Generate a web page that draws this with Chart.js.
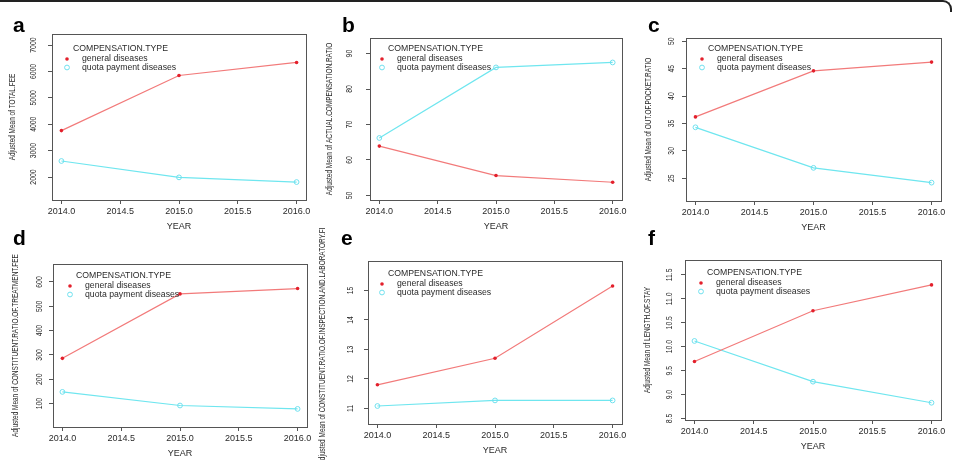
<!DOCTYPE html>
<html>
<head>
<meta charset="utf-8">
<script src="https://cdn.jsdelivr.net/npm/chart.js@4.4.1/dist/chart.umd.min.js"></script>
<style>
  body { margin: 0; background: #fff; }
  #fig { position: relative; width: 955px; height: 460px; overflow: hidden; background: #fff; }
  #fig canvas { position: absolute; }
  #frame { position: absolute; left: -10px; top: 0; width: 960px; height: 10px;
           border-top: 2px solid #222; border-right: 2px solid #222; border-top-right-radius: 9px; }
</style>
</head>
<body>
<div id="fig"><div id="frame"></div></div>
<script>
const years = [2014, 2015, 2016];
const xTicks = [2014.0, 2014.5, 2015.0, 2015.5, 2016.0];
const xRange = [2013.92, 2016.08];

// a: total fee
const totalFeeGeneral = [3760, 5848, 6342];
const totalFeeQuota = [2608, 1987, 1810];
const totalFeeTicks = [2000, 3000, 4000, 5000, 6000, 7000];
const totalFeeRange = [1130, 7420];

// b: actual compensation ratio
const actualCompGeneral = [63.9, 55.6, 53.7];
const actualCompQuota = [66.2, 86.1, 87.5];
const actualCompTicks = [50, 60, 70, 80, 90];
const actualCompRange = [48.7, 94.4];

// c: out of pocket ratio
const outOfPocketGeneral = [36.2, 44.6, 46.2];
const outOfPocketQuota = [34.3, 26.9, 24.2];
const outOfPocketTicks = [25, 30, 35, 40, 45, 50];
const outOfPocketRange = [20.85, 50.6];

// d: constituent ratio of treatment fee
const treatmentGeneral = [286, 551, 573];
const treatmentQuota = [148, 92, 78];
const treatmentTicks = [100, 200, 300, 400, 500, 600];
const treatmentRange = [3.6, 674];

// e: constituent ratio of inspection and laboratory fee
const inspectionGeneral = [11.8, 12.7, 15.15];
const inspectionQuota = [11.08, 11.27, 11.27];
const inspectionTicks = [11, 12, 13, 14, 15];
const inspectionRange = [10.47, 16.0];

// f: length of stay
const stayGeneral = [9.69, 10.75, 11.29];
const stayQuota = [10.12, 9.27, 8.83];
const stayTicks = [8.5, 9.0, 9.5, 10.0, 10.5, 11.0, 11.5];
const stayRange = [8.47, 11.81];

const seriesNames = ["general diseases", "quota payment diseases"];
const legendTitle = "COMPENSATION.TYPE";

const RED_LINE = "#f27a7a";
const RED_PT = "#e3202c";
const CYAN_LINE = "#6fe6ef";
const CYAN_PT = "#6fe0ee";
const TEXT = "#2a2a2a";
const FONT = '"Liberation Sans", Arial, Helvetica, sans-serif';

// left/top of each canvas, plot box inside it, and where the text sits
const panels = [
  { letter: "a", x: 0, y: 0, general: totalFeeGeneral, quota: totalFeeQuota, ticks: totalFeeTicks, range: totalFeeRange, dec: 0,
    title: "Adjusted Mean of TOTAL.FEE", area: [52, 34, 306, 200], tickGap: 18, titleGap: 39, letterPos: [13, 32], legendPos: [73, 49] },
  { letter: "b", x: 318, y: 0, general: actualCompGeneral, quota: actualCompQuota, ticks: actualCompTicks, range: actualCompRange, dec: 0,
    title: "Adjusted Mean of ACTUAL.COMPENSATION.RATIO", area: [52, 38, 304, 200], tickGap: 20, titleGap: 40, letterPos: [24, 32], legendPos: [70, 49] },
  { letter: "c", x: 636, y: 0, general: outOfPocketGeneral, quota: outOfPocketQuota, ticks: outOfPocketTicks, range: outOfPocketRange, dec: 0,
    title: "Adjusted Mean of OUT.OF.POCKET.RATIO", area: [50, 38, 305, 201], tickGap: 14, titleGap: 37, letterPos: [12, 32], legendPos: [72, 49] },
  { letter: "d", x: 0, y: 228, general: treatmentGeneral, quota: treatmentQuota, ticks: treatmentTicks, range: treatmentRange, dec: 0,
    title: "Adjusted Mean of CONSTITUENT.RATIO.OF.TREATMENT.FEE", area: [53, 36, 307, 199], tickGap: 13, titleGap: 37, letterPos: [13, 17], legendPos: [76, 48] },
  { letter: "e", x: 318, y: 228, general: inspectionGeneral, quota: inspectionQuota, ticks: inspectionTicks, range: inspectionRange, dec: 0,
    title: "Adjusted Mean of CONSTITUENT.RATIO.OF.INSPECTION.AND.LABORATORY.FEE", area: [50, 33, 304, 196], tickGap: 17, titleGap: 45, letterPos: [23, 17], legendPos: [70, 46] },
  { letter: "f", x: 636, y: 228, general: stayGeneral, quota: stayQuota, ticks: stayTicks, range: stayRange, dec: 1,
    title: "Adjusted Mean of LENGTH.OF.STAY", area: [49, 32, 305, 192], tickGap: 15, titleGap: 37, letterPos: [12, 17], legendPos: [71, 45] }
];

const CANVAS_W = 319;
const CANVAS_H = 232;
const SQUASH = 0.76; // vertical text in the figure is compressed

const panelDecor = {
  id: "panelDecor",
  afterDatasetsDraw(chart, args, opts) {
    const p = opts.panel;
    const { ctx, chartArea: a } = chart;
    const ys = chart.scales.y;
    ctx.save();

    // box round the plot
    ctx.strokeStyle = "#555";
    ctx.lineWidth = 1;
    ctx.strokeRect(Math.round(a.left) + 0.5, Math.round(a.top) + 0.5,
      Math.round(a.right - a.left), Math.round(a.bottom - a.top));

    // y tick labels, parallel to the axis
    ctx.fillStyle = TEXT;
    ctx.textAlign = "center";
    ctx.textBaseline = "middle";
    ctx.font = "9px " + FONT;
    ys.ticks.forEach(t => {
      const py = ys.getPixelForValue(t.value);
      ctx.save();
      ctx.translate(a.left - p.tickGap, py);
      ctx.rotate(-Math.PI / 2);
      ctx.scale(SQUASH, 1);
      ctx.fillText(t.value.toFixed(p.dec), 0, 0);
      ctx.restore();
    });

    // y title
    ctx.font = "8.5px " + FONT;
    ctx.save();
    ctx.translate(a.left - p.titleGap, (a.top + a.bottom) / 2);
    ctx.rotate(-Math.PI / 2);
    ctx.scale(SQUASH, 1);
    ctx.fillText(p.title, 0, 0);
    ctx.restore();

    // x title
    ctx.font = "9px " + FONT;
    ctx.fillText("YEAR", (a.left + a.right) / 2, a.bottom + 27);

    // legend, drawn from the datasets
    const [lx, ly] = p.legendPos;
    ctx.textAlign = "left";
    ctx.font = "8.7px " + FONT;
    ctx.fillText(legendTitle, lx, ly);
    chart.data.datasets.forEach((ds, i) => {
      const rowY = ly + 10 + i * 8.5;
      ctx.beginPath();
      ctx.arc(lx - 6, rowY, ds.pointRadius, 0, Math.PI * 2);
      if (ds.pointBackgroundColor !== "transparent") {
        ctx.fillStyle = ds.pointBackgroundColor;
        ctx.fill();
      } else {
        ctx.strokeStyle = ds.pointBorderColor;
        ctx.lineWidth = 1;
        ctx.stroke();
      }
      ctx.fillStyle = TEXT;
      ctx.fillText(ds.label, lx + 9, rowY);
    });

    // panel letter
    ctx.fillStyle = "#000";
    ctx.textBaseline = "alphabetic";
    ctx.font = "bold 21px " + FONT;
    ctx.fillText(p.letter, p.letterPos[0], p.letterPos[1]);

    ctx.restore();
  }
};

function toPoints(values) {
  return values.map((v, i) => ({ x: years[i], y: v }));
}

function makePanel(p) {
  const canvas = document.createElement("canvas");
  canvas.width = CANVAS_W;
  canvas.height = CANVAS_H;
  canvas.style.left = p.x + "px";
  canvas.style.top = p.y + "px";
  document.getElementById("fig").appendChild(canvas);

  const [left, top, right, bottom] = p.area;

  new Chart(canvas.getContext("2d"), {
    type: "line",
    data: {
      datasets: [
        { label: seriesNames[0], data: toPoints(p.general), borderColor: RED_LINE, borderWidth: 1.2,
          pointRadius: 1.8, pointBackgroundColor: RED_PT, pointBorderWidth: 0, pointBorderColor: RED_PT, tension: 0 },
        { label: seriesNames[1], data: toPoints(p.quota), borderColor: CYAN_LINE, borderWidth: 1.2,
          pointRadius: 2.4, pointBackgroundColor: "transparent", pointBorderColor: CYAN_PT, pointBorderWidth: 1, tension: 0 }
      ]
    },
    options: {
      responsive: false,
      animation: false,
      devicePixelRatio: 1,
      layout: { padding: { left: 0, top: top, right: CANVAS_W - right, bottom: 0 } },
      plugins: {
        legend: { display: false },
        tooltip: { enabled: false },
        panelDecor: { panel: p }
      },
      scales: {
        x: {
          type: "linear",
          min: xRange[0],
          max: xRange[1],
          afterBuildTicks: s => { s.ticks = xTicks.map(v => ({ value: v })); },
          afterFit: s => { s.height = CANVAS_H - bottom; },
          ticks: { color: TEXT, font: { family: FONT, size: 9 }, padding: 2, autoSkip: false,
                   maxRotation: 0, callback: v => Number(v).toFixed(1) },
          grid: { drawOnChartArea: false, drawTicks: true, tickLength: 4, color: "#555" },
          border: { display: false }
        },
        y: {
          type: "linear",
          min: p.range[0],
          max: p.range[1],
          afterBuildTicks: s => { s.ticks = p.ticks.map(v => ({ value: v })); },
          afterFit: s => { s.width = left; },
          ticks: { display: false },
          grid: { drawOnChartArea: false, drawTicks: true, tickLength: 4, color: "#555" },
          border: { display: false }
        }
      }
    },
    plugins: [panelDecor]
  });
}

panels.forEach(makePanel);
</script>
</body>
</html>
